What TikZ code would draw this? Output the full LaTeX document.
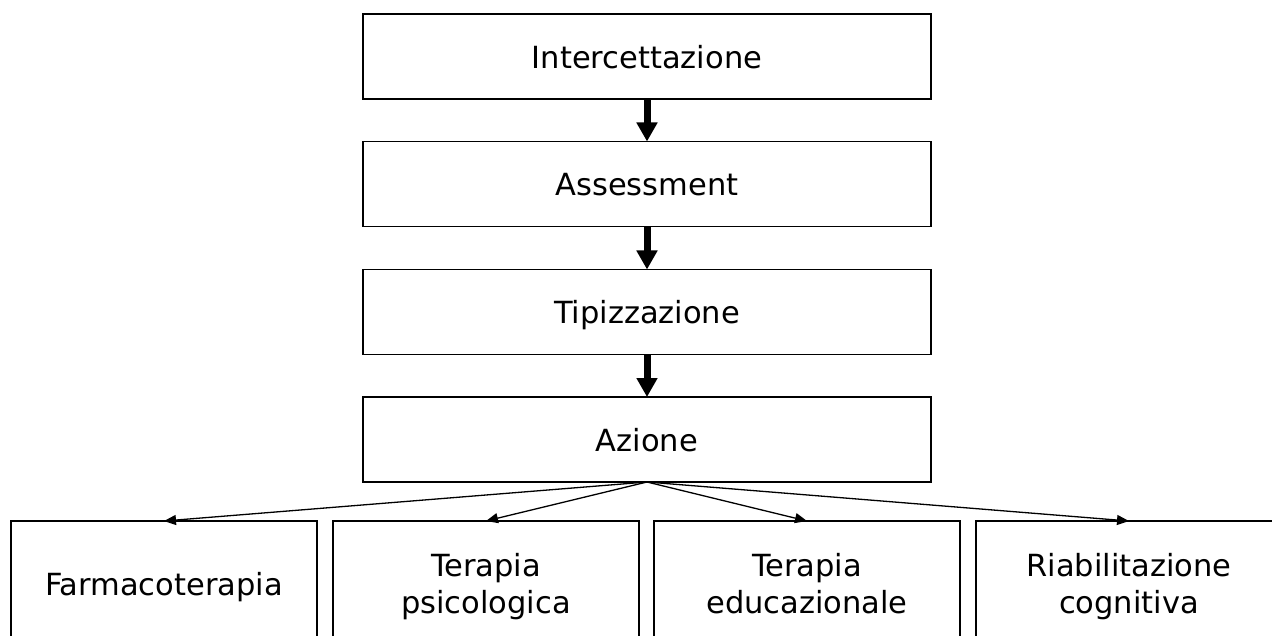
\documentclass[tikz,border=0pt]{standalone}
\usepackage{fontspec}
\setmainfont{DejaVu Sans}
\usetikzlibrary{arrows.meta}
\begin{document}
\begin{tikzpicture}[x=1pt,y=-1pt,
  topbox/.style={draw=black, line width=1.6pt, minimum width=568pt, minimum height=85pt, inner sep=0pt, outer sep=0pt, text height=24pt, text depth=0pt, font=\fontsize{30.5}{37}\selectfont},
  botbox/.style={draw=black, line width=1.6pt, minimum width=306pt, minimum height=126pt, inner sep=0pt, outer sep=0pt, align=center, text height=22pt, text depth=0pt, font=\fontsize{30.5}{37}\selectfont},
  twoline/.style={text height=59pt, text depth=0pt},
  bigarrow/.style={line width=7pt, -{Triangle[width=20pt,length=19pt]}},
  thinarrow/.style={line width=1.3pt, -{Triangle[width=10pt,length=12pt]}}]
\path[use as bounding box] (0,0) rectangle (1272,636);
\clip (0,0) rectangle (1272,636);
\node[topbox] (n1) at (647,56.5) {Intercettazione};
\node[topbox] (n2) at (647,184) {Assessment};
\node[topbox] (n3) at (647,312) {Tipizzazione};
\node[topbox] (n4) at (647,439.5) {Azione};
\node[botbox] (b1) at (164,584) {Farmacoterapia};
\node[botbox,twoline] (b2) at (486,584) {Terapia\\psicologica};
\node[botbox,twoline] (b3) at (807,584) {Terapia\\educazionale};
\node[botbox,twoline] (b4) at (1129,584) {Riabilitazione\\cognitiva};
\draw[bigarrow] (n1.south) -- (n2.north);
\draw[bigarrow] (n2.south) -- (n3.north);
\draw[bigarrow] (n3.south) -- (n4.north);
\foreach \b in {b1,b2,b3,b4}{
  \draw[thinarrow] (n4.south) -- (\b.north);
}
\end{tikzpicture}
\end{document}
